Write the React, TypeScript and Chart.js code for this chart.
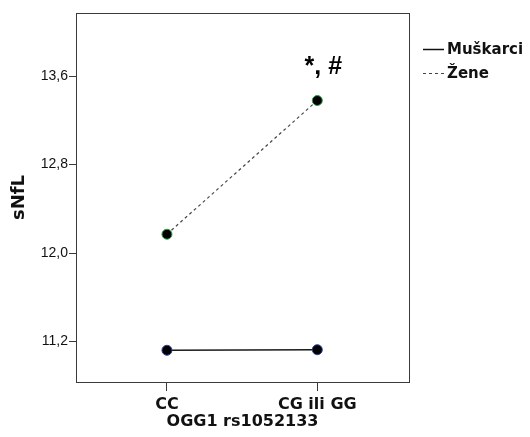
import React, { useEffect, useRef } from "react";
import { Chart, registerables } from "chart.js";

Chart.register(...registerables);

const categories = ["CC", "CG ili GG"];
const muskarci = [11.12, 11.125];
const zene = [12.17, 13.38];
const yTicks = [11.2, 12.0, 12.8, 13.6];
const seriesLabels = ["Muškarci", "Žene"];
const annotationText = "*, #";

const BOLD = "'DejaVu Sans', sans-serif";
const REG = "'Liberation Sans', Arial, sans-serif";

const framePlugin = {
  id: "frame",
  afterDraw(chart: any) {
    const { ctx, chartArea } = chart;
    ctx.save();
    ctx.strokeStyle = "#3a3a3a";
    ctx.lineWidth = 1;
    ctx.strokeRect(
      Math.round(chartArea.left) + 0.5,
      Math.round(chartArea.top) + 0.5,
      Math.round(chartArea.right - chartArea.left),
      Math.round(chartArea.bottom - chartArea.top)
    );
    // legend
    const lx0 = chartArea.right + 14;
    const lx1 = lx0 + 21;
    const rows = [49, 73];
    ctx.font = `bold 15px ${BOLD}`;
    ctx.fillStyle = "#111";
    ctx.textBaseline = "middle";
    ctx.textAlign = "left";
    seriesLabels.forEach((lab, i) => {
      ctx.beginPath();
      ctx.strokeStyle = i === 0 ? "#111" : "#444";
      ctx.lineWidth = i === 0 ? 1.5 : 1;
      ctx.setLineDash(i === 0 ? [] : [3, 3]);
      ctx.moveTo(lx0, rows[i] + 0.5);
      ctx.lineTo(lx1, rows[i] + 0.5);
      ctx.stroke();
      ctx.setLineDash([]);
      ctx.fillText(lab, lx1 + 3, rows[i] + 1);
    });
    // annotation
    const xs = chart.scales.x;
    const ys = chart.scales.y;
    const ax = xs.getPixelForValue(1) + 6;
    const ay = ys.getPixelForValue(zene[1]) - 27;
    ctx.font = `bold 25px ${REG}`;
    ctx.textAlign = "center";
    ctx.textBaseline = "alphabetic";
    ctx.fillStyle = "#000";
    ctx.fillText(annotationText, ax, ay);
    ctx.restore();
  },
};

export default function App() {
  const ref = useRef<HTMLCanvasElement>(null);
  useEffect(() => {
    document.body.style.margin = "0";
    const chart = new Chart(ref.current as HTMLCanvasElement, {
      type: "line",
      data: {
        datasets: [
          {
            label: seriesLabels[0],
            data: muskarci.map((v, i) => ({ x: i, y: v })),
            borderColor: "#1a1a1a",
            borderWidth: 1.5,
            pointRadius: 5,
            pointBackgroundColor: "#000",
            pointBorderColor: "#2a3f9a",
            pointBorderWidth: 1,
            fill: false,
          },
          {
            label: seriesLabels[1],
            data: zene.map((v, i) => ({ x: i, y: v })),
            borderColor: "#444",
            borderWidth: 1.2,
            borderDash: [3, 3],
            pointRadius: 5,
            pointBackgroundColor: "#000",
            pointBorderColor: "#2fa04a",
            pointBorderWidth: 1,
            fill: false,
          },
        ],
      },
      options: {
        responsive: false,
        animation: false,
        layout: { padding: { left: 0, right: 121, top: 13, bottom: 0 } },
        plugins: {
          legend: { display: false },
          tooltip: { enabled: false },
        },
        scales: {
          x: {
            type: "linear",
            min: -0.605,
            max: 1.61,
            afterBuildTicks: (s: any) => {
              s.ticks = categories.map((_, i) => ({ value: i }));
            },
            afterFit: (s: any) => {
              s.height = 55;
            },
            grid: {
              drawOnChartArea: false,
              drawTicks: true,
              tickLength: 9,
              color: "#3a3a3a",
            },
            border: { display: false },
            ticks: {
              callback: (v: any) => categories[v] ?? "",
              color: "#111",
              padding: 4,
              maxRotation: 0,
              font: { family: BOLD, weight: "bold", size: 16 },
            },
            title: {
              display: true,
              text: "OGG1 rs1052133",
              color: "#111",
              padding: { top: 0, bottom: 6 },
              font: { family: BOLD, weight: "bold", size: 16 },
            },
          },
          y: {
            type: "linear",
            min: 10.833,
            max: 14.172,
            afterBuildTicks: (s: any) => {
              s.ticks = yTicks.map((v) => ({ value: v }));
            },
            afterFit: (s: any) => {
              s.width = 76;
            },
            grid: {
              drawOnChartArea: false,
              drawTicks: true,
              tickLength: 7,
              color: "#3a3a3a",
            },
            border: { display: false },
            ticks: {
              callback: (v: any) => Number(v).toFixed(1).replace(".", ","),
              color: "#111",
              padding: 1,
              font: { family: REG, size: 14 },
            },
            title: {
              display: true,
              text: "sNfL",
              color: "#111",
              padding: { top: 9, bottom: 0 },
              font: { family: BOLD, weight: "bold", size: 18 },
            },
          },
        },
      },
      plugins: [framePlugin],
    } as any);
    return () => chart.destroy();
  }, []);
  return (
    <div style={{ width: 530, height: 437 }}>
      <canvas ref={ref} width={530} height={437} />
    </div>
  );
}
